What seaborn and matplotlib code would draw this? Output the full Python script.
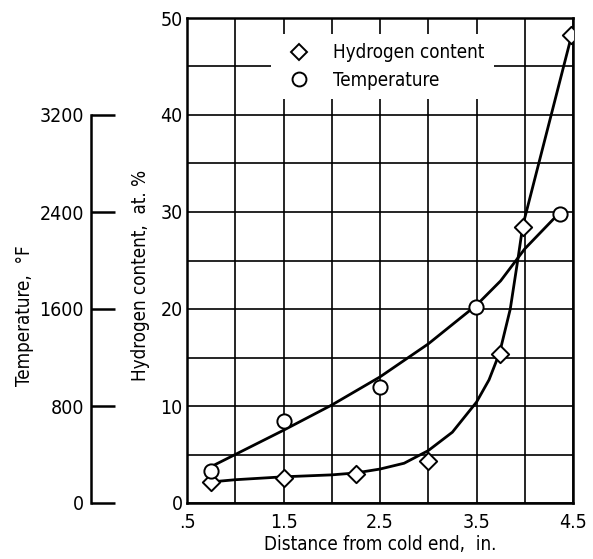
import matplotlib
matplotlib.use("Agg")
import matplotlib.pyplot as plt
from matplotlib.lines import Line2D
import seaborn as sns
import pandas as pd

# ---- data ----
h_x = [0.75, 1.5, 2.25, 3.0, 3.74, 3.98, 4.48]
h_y = [2.2, 2.6, 3.0, 4.3, 15.4, 28.5, 48.2]
t_x = [0.75, 1.5, 2.5, 3.49, 4.37]
t_y = [3.3, 8.5, 12.0, 20.2, 29.8]  # plotted on the hydrogen scale (800 F per 10 units)

# faired curves as drawn on the reference
h_curve_x = [0.78, 1.0, 1.5, 2.0, 2.25, 2.5, 2.75, 3.0, 3.25, 3.5, 3.63, 3.74, 3.85, 3.93, 3.98, 4.48]
h_curve_y = [2.2, 2.4, 2.7, 2.9, 3.1, 3.5, 4.1, 5.4, 7.3, 10.4, 12.7, 15.5, 20.0, 25.2, 28.6, 48.0]
t_curve_x = [0.78, 1.0, 1.5, 2.0, 2.5, 3.0, 3.5, 3.75, 4.0, 4.31]
t_curve_y = [3.9, 5.0, 7.5, 10.1, 13.0, 16.4, 20.4, 22.9, 26.2, 29.4]

x_ticks = [0.5, 1.5, 2.5, 3.5, 4.5]
x_tick_labels = [".5", "1.5", "2.5", "3.5", "4.5"]
y_ticks = [0, 10, 20, 30, 40, 50]
temp_ticks = [0, 800, 1600, 2400, 3200]

sns.set_style("white")
plt.rcParams["font.family"] = ["DejaVu Sans"]
plt.rcParams["font.stretch"] = "condensed"
plt.rcParams["font.size"] = 13.5
plt.rcParams["text.color"] = "black"
plt.rcParams["xtick.color"] = "black"
plt.rcParams["ytick.color"] = "black"
plt.rcParams["axes.labelcolor"] = "black"

FS = 13.5

fig = plt.figure(figsize=(5.93, 5.59), dpi=100)
ax = fig.add_axes([187/593, 56/559, 386/593, 485/559])

dfh = pd.DataFrame({"x": h_curve_x, "y": h_curve_y})
dft = pd.DataFrame({"x": t_curve_x, "y": t_curve_y})
sns.lineplot(data=dfh, x="x", y="y", sort=False, color="black", lw=2.0, ax=ax, zorder=3)
sns.lineplot(data=dft, x="x", y="y", sort=False, color="black", lw=2.0, ax=ax, zorder=3)

sns.scatterplot(x=h_x, y=h_y, marker="D", s=78, facecolor="white", edgecolor="black",
                linewidth=1.4, ax=ax, zorder=4)
sns.scatterplot(x=t_x, y=t_y, marker="o", s=105, facecolor="white", edgecolor="black",
                linewidth=1.4, ax=ax, zorder=4)

ax.set_xlim(0.5, 4.5)
ax.set_ylim(0, 50)
ax.set_xticks(x_ticks)
ax.set_xticklabels(x_tick_labels)
ax.set_xticks([1, 2, 3, 4], minor=True)
ax.set_yticks(y_ticks)
ax.set_yticks([5, 15, 25, 35, 45], minor=True)
ax.grid(True, which="both", color="black", lw=1.2)
ax.tick_params(which="both", length=0, labelsize=FS + 0.5)
ax.tick_params(axis="y", pad=3)
ax.tick_params(axis="x", pad=7)
for s in ax.spines.values():
    s.set_color("black")
    s.set_linewidth(1.8)
ax.set_xlabel("Distance from cold end,  in.", fontsize=FS, labelpad=2)
ax.set_ylabel("")

handles = [Line2D([], [], marker="D", ls="none", mfc="white", mec="black", ms=8.5, mew=1.4),
           Line2D([], [], marker="o", ls="none", mfc="white", mec="black", ms=10, mew=1.4)]
leg = ax.legend(handles, ["Hydrogen content", "Temperature"], loc="upper left",
                bbox_to_anchor=(271/593, 1 - 34/559), bbox_transform=fig.transFigure,
                frameon=True, fontsize=FS, handlelength=2.0, handletextpad=0.8,
                labelspacing=0.44, borderpad=0.5, borderaxespad=0, framealpha=1)
leg.get_frame().set_edgecolor("none")
leg.get_frame().set_facecolor("white")
leg.set_zorder(5)

# temperature scale axis
ax2 = fig.add_axes([91/593, 56/559, 0.05, 485/559])
ax2.set_ylim(0, 4000)
ax2.set_xlim(0, 1)
ax2.set_facecolor("none")
for k in ["top", "right", "bottom"]:
    ax2.spines[k].set_visible(False)
ax2.spines["left"].set_bounds(0, 3200)
ax2.spines["left"].set_linewidth(1.8)
ax2.spines["left"].set_color("black")
ax2.set_xticks([])
ax2.set_yticks(temp_ticks)
ax2.tick_params(axis="y", direction="in", length=17, width=1.8, labelsize=FS + 0.5, pad=5, left=True)

fig.text(24/593, 1 - 316/559, "Temperature,  \u00b0F", rotation=90, ha="center", va="center", fontsize=FS)
fig.text(140/593, 1 - 275/559, "Hydrogen content,  at. %", rotation=90, ha="center", va="center", fontsize=FS)

fig.savefig("out.png", dpi=100)
